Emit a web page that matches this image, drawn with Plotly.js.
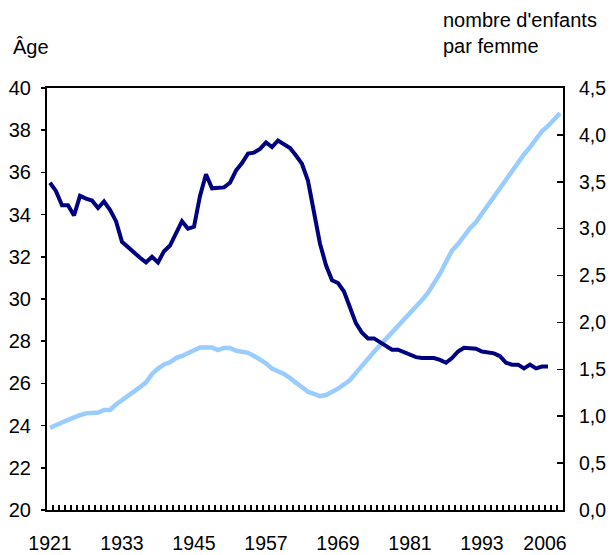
<!DOCTYPE html>
<html>
<head>
<meta charset="utf-8">
<script src="https://cdn.plot.ly/plotly-3.0.1.min.js"></script>
<style>html,body{margin:0;padding:0;background:#fff;}#chart{width:611px;height:555px;}</style>
</head>
<body>
<div id="chart"></div>
<script>
// Years 1921-2006
const years = [];
for (let y = 1921; y <= 2006; y++) years.push(y);

// Light blue series: age (left axis), 1921-2006
const ageValues = [
  23.9, 24.0, 24.15, 24.27, 24.4, 24.5, 24.58, 24.6, 24.62, 24.74,
  24.74, 25.0, 25.2, 25.38, 25.6, 25.82, 26.05, 26.45, 26.7, 26.9,
  27.0, 27.2, 27.3, 27.45, 27.6, 27.7, 27.7, 27.7, 27.58, 27.68,
  27.68, 27.55, 27.5, 27.45, 27.3, 27.15, 26.95, 26.7, 26.58, 26.45,
  26.25, 26.05, 25.8, 25.6, 25.5, 25.4, 25.45, 25.58, 25.75, 25.95,
  26.16, 26.5, 26.85, 27.16, 27.5, 27.8, 28.1, 28.4, 28.7, 29.0,
  29.3, 29.6, 29.95, 30.3, 30.75, 31.2, 31.75, 32.3, 32.6, 33.0,
  33.36, 33.65, 34.05, 34.45, 34.85, 35.3, 35.7, 36.1, 36.5, 36.85,
  37.2, 37.6, 37.95, 38.2, 38.5, 38.8
];

// Dark blue series: children per woman (right axis), 1921-2004
const tfrYears = years.slice(0, 84);
const tfrValues = [
  3.49, 3.40, 3.25, 3.25, 3.14, 3.35, 3.32, 3.30, 3.22, 3.29,
  3.20, 3.08, 2.86, 2.80, 2.75, 2.69, 2.64, 2.70, 2.64, 2.76,
  2.82, 2.95, 3.08, 3.00, 3.02, 3.35, 3.58, 3.43, 3.44, 3.44,
  3.49, 3.62, 3.70, 3.80, 3.81, 3.85, 3.92, 3.87, 3.94, 3.90,
  3.86, 3.78, 3.69, 3.51, 3.15, 2.84, 2.61, 2.45, 2.42, 2.33,
  2.16, 1.99, 1.89, 1.83, 1.83, 1.79, 1.74, 1.71, 1.71, 1.68,
  1.65, 1.63, 1.62, 1.62, 1.62, 1.60, 1.57, 1.62, 1.69, 1.73,
  1.73, 1.72, 1.69, 1.68, 1.67, 1.64, 1.57, 1.55, 1.55, 1.51,
  1.55, 1.51, 1.53, 1.53
];

const xLabelVals = [1921, 1933, 1945, 1957, 1969, 1981, 1993, 2003.5];
const xLabelText = ['1921', '1933', '1945', '1957', '1969', '1981', '1993', '2006'];

const FONT = 'Liberation Sans, Arial, Helvetica, sans-serif';

const traces = [
  {
    x: years, y: ageValues, type: 'scatter', mode: 'lines',
    line: {color: '#99CCFF', width: 4.5}, xaxis: 'x', yaxis: 'y',
    hoverinfo: 'skip'
  },
  {
    x: tfrYears, y: tfrValues, type: 'scatter', mode: 'lines',
    line: {color: '#000080', width: 4}, xaxis: 'x', yaxis: 'y2',
    hoverinfo: 'skip'
  },
  {
    x: [1921], y: [20], type: 'scatter', mode: 'none',
    xaxis: 'x2', yaxis: 'y', hoverinfo: 'skip', showlegend: false
  }
];

const layout = {
  width: 611, height: 555,
  margin: {l: 47, r: 48, t: 88, b: 45, pad: 0},
  paper_bgcolor: '#ffffff', plot_bgcolor: '#ffffff',
  showlegend: false,
  separators: ', ',
  font: {family: FONT, size: 20, color: '#000'},
  xaxis: {
    range: [1920.5, 2006.5], tick0: 1920.5, dtick: 1,
    ticks: 'inside', ticklen: 5, tickwidth: 1.5, tickcolor: '#000',
    showticklabels: false, showgrid: false, zeroline: false,
    showline: true, linecolor: '#000', linewidth: 2, mirror: true,
    fixedrange: true
  },
  xaxis2: {
    overlaying: 'x', anchor: 'y', side: 'bottom',
    range: [1920.5, 2006.5], tickmode: 'array',
    tickvals: xLabelVals, ticktext: xLabelText,
    ticks: '', showgrid: false, zeroline: false, showline: false,
    ticklabelstandoff: 19,
    tickfont: {family: FONT, size: 19.5, color: '#000'}
  },
  yaxis: {
    range: [20, 40], dtick: 2, tick0: 20,
    ticks: 'outside', ticklen: 4, tickwidth: 1.5, tickcolor: '#000',
    showgrid: false, zeroline: false,
    showline: true, linecolor: '#000', linewidth: 2,
    ticklabelstandoff: 6,
    tickfont: {family: FONT, size: 20, color: '#000'}
  },
  yaxis2: {
    overlaying: 'y', side: 'right', anchor: 'x',
    range: [0, 4.5], dtick: 0.5, tick0: 0, tickformat: '.1f',
    ticks: 'inside', ticklen: 6, tickwidth: 1.5, tickcolor: '#000',
    showgrid: false, zeroline: false,
    showline: true, linecolor: '#000', linewidth: 2,
    ticklabelstandoff: 10,
    tickfont: {family: FONT, size: 19.5, color: '#000'}
  },
  annotations: [
    {text: 'Âge', xref: 'paper', yref: 'paper', x: -0.07, y: 1.0,
     yshift: 41, xanchor: 'left', yanchor: 'middle', showarrow: false,
     font: {family: FONT, size: 20, color: '#000'}},
    {text: "nombre d'enfants<br>par femme", xref: 'paper', yref: 'paper',
     x: 0.764, y: 1.0, yshift: 55, xanchor: 'left', yanchor: 'middle',
     align: 'left', showarrow: false,
     font: {family: FONT, size: 20, color: '#000'}}
  ]
};

Plotly.newPlot('chart', traces, layout, {displayModeBar: false, staticPlot: true});
</script>
</body>
</html>
